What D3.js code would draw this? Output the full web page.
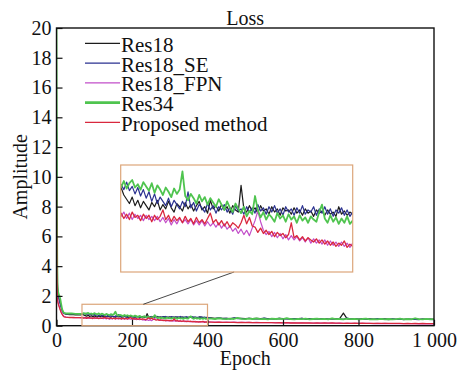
<!DOCTYPE html>
<html>
<head>
<meta charset="utf-8">
<script src="https://cdn.jsdelivr.net/npm/d3@7"></script>
<style>
  body { margin: 0; background: #fff; }
  svg text { font-family: "Liberation Serif", "Times New Roman", serif; fill: #111; }
</style>
</head>
<body>
<div id="svg-container"></div>
<script>
// epochs: dense start, inset region, coarse tail
const earlyEpochs = [0, 1, 2, 3, 4, 5, 6, 8, 10, 12, 15, 18, 20, 25, 30, 35, 40, 45, 50, 55, 60, 64];
const midEpochs = d3.range(68, 401, 4);
const lateEpochs = d3.range(410, 1001, 10);

const xTicks = [0, 200, 400, 600, 800, 1000];
const yTicks = [0, 2, 4, 6, 8, 10, 12, 14, 16, 18, 20];
const seriesNames = ["Res18", "Res18_SE", "Res18_FPN", "Res34", "Proposed method"];

const res18Early = [14, 6, 3.2, 2.5, 2.2, 2.0, 1.9, 1.7, 1.5, 1.3, 1.05, 0.9, 0.82, 0.78, 0.76, 0.75, 0.74, 0.74, 0.73, 0.73, 0.72, 0.72];
const res18Mid = [
  0.79,0.72,0.68,0.64,0.70,0.62,0.67,0.60,0.66,0.62,0.58,0.65,
  0.61,0.67,0.58,0.63,0.59,0.66,0.60,0.56,0.64,0.61,0.57,0.65,
  0.59,0.63,0.57,0.62,0.66,0.58,0.61,0.55,0.67,0.59,0.62,0.57,
  0.63,0.58,0.61,0.55,0.62,0.58,0.56,0.81,0.59,0.56,0.62,0.57,
  0.60,0.55,0.62,0.57,0.59,0.54,0.61,0.56,0.59,0.53,0.60,0.57,
  0.58,0.54,0.60,0.55,0.58,0.53,0.59,0.55,0.57,0.52,0.58,0.55,
  0.57,0.53,0.58,0.54,0.56,0.52,0.61,0.54,0.57,0.53,0.56,0.54];
const res18Late = [
  0.52,0.50,0.51,0.49,0.50,0.48,0.51,0.49,0.50,0.48,0.50,0.47,
  0.49,0.48,0.50,0.47,0.48,0.46,0.49,0.47,0.48,0.46,0.48,0.47,
  0.49,0.46,0.47,0.45,0.48,0.46,0.47,0.45,0.48,0.46,0.47,0.85,
  0.46,0.45,0.47,0.45,0.46,0.44,0.46,0.44,0.45,0.44,0.46,0.44,
  0.45,0.43,0.45,0.43,0.44,0.43,0.45,0.42,0.44,0.43,0.44,0.42];

const seEarly = [13, 5.5, 3, 2.4, 2.1, 1.95, 1.85, 1.65, 1.45, 1.25, 1.0, 0.88, 0.82, 0.8, 0.79, 0.79, 0.8, 0.8, 0.8, 0.81, 0.81, 0.81];
const seMid = [
  0.82,0.77,0.84,0.76,0.80,0.73,0.79,0.71,0.77,0.69,0.75,0.66,
  0.73,0.64,0.70,0.66,0.62,0.69,0.61,0.67,0.63,0.59,0.66,0.61,
  0.75,0.60,0.65,0.57,0.63,0.60,0.56,0.64,0.58,0.62,0.55,0.61,
  0.58,0.63,0.56,0.60,0.54,0.62,0.57,0.59,0.54,0.61,0.56,0.60,
  0.55,0.63,0.57,0.60,0.54,0.61,0.56,0.62,0.55,0.59,0.53,0.61,
  0.56,0.59,0.53,0.60,0.55,0.62,0.54,0.58,0.56,0.61,0.53,0.59,
  0.55,0.61,0.54,0.59,0.52,0.58,0.55,0.60,0.53,0.58,0.52,0.56];
const seLate = [
  0.50,0.48,0.52,0.47,0.49,0.46,0.52,0.47,0.48,0.45,0.50,0.46,
  0.48,0.45,0.51,0.46,0.47,0.44,0.49,0.46,0.48,0.44,0.47,0.45,
  0.49,0.44,0.46,0.43,0.48,0.45,0.46,0.43,0.47,0.44,0.46,0.43,
  0.51,0.44,0.45,0.42,0.46,0.43,0.45,0.42,0.48,0.43,0.44,0.41,
  0.46,0.42,0.44,0.41,0.45,0.42,0.43,0.41,0.45,0.42,0.43,0.41];

const fpnEarly = [10, 4, 2.2, 1.8, 1.6, 1.5, 1.4, 1.25, 1.1, 0.95, 0.8, 0.68, 0.62, 0.58, 0.56, 0.55, 0.55, 0.54, 0.54, 0.54, 0.54, 0.53];
const fpnMid = [
  0.52,0.56,0.50,0.55,0.49,0.54,0.50,0.53,0.48,0.53,0.49,0.52,
  0.48,0.52,0.47,0.51,0.46,0.50,0.44,0.49,0.45,0.50,0.46,0.49,
  0.45,0.49,0.44,0.48,0.44,0.48,0.43,0.47,0.43,0.46,0.42,0.46,
  0.41,0.45,0.40,0.43,0.38,0.41,0.36,0.40,0.35,0.39,0.34,0.41,
  0.48,0.57,0.47,0.39,0.35,0.38,0.33,0.37,0.32,0.36,0.31,0.35,
  0.30,0.34,0.30,0.33,0.29,0.32,0.28,0.32,0.27,0.31,0.27,0.30,
  0.26,0.30,0.25,0.29,0.25,0.28,0.24,0.28,0.24,0.27,0.23,0.27];
const fpnLate = [
  0.25,0.24,0.25,0.23,0.24,0.23,0.24,0.22,0.23,0.22,0.22,0.21,
  0.22,0.21,0.21,0.20,0.21,0.20,0.20,0.19,0.20,0.19,0.19,0.18,
  0.19,0.18,0.18,0.17,0.18,0.17,0.17,0.17,0.17,0.16,0.17,0.16,
  0.16,0.15,0.16,0.15,0.16,0.15,0.15,0.14,0.15,0.14,0.15,0.14,
  0.14,0.13,0.14,0.13,0.14,0.13,0.13,0.12,0.13,0.12,0.13,0.12];

const res34Early = [20, 9, 4, 2.6, 2.3, 2.2, 2.1, 2.0, 1.8, 1.5, 1.1, 0.92, 0.86, 0.83, 0.82, 0.82, 0.82, 0.81, 0.8, 0.8, 0.8, 0.79];
const res34Mid = [
  0.79,0.85,0.78,0.83,0.86,0.79,0.82,0.77,0.84,0.80,0.76,0.83,
  0.74,0.81,0.77,0.72,0.79,0.75,0.70,0.78,0.73,0.77,0.94,0.71,
  0.67,0.73,0.69,0.64,0.72,0.66,0.70,0.63,0.69,0.65,0.61,0.68,
  0.63,0.58,0.66,0.60,0.56,0.64,0.59,0.55,0.61,0.52,0.57,0.54,
  0.71,0.58,0.51,0.56,0.49,0.54,0.51,0.47,0.55,0.50,0.53,0.47,
  0.54,0.49,0.52,0.46,0.53,0.48,0.51,0.46,0.52,0.49,0.47,0.56,
  0.63,0.50,0.46,0.53,0.47,0.51,0.45,0.50,0.46,0.52,0.45,0.48];
const res34Late = [
  0.47,0.45,0.50,0.46,0.44,0.48,0.45,0.52,0.46,0.44,0.47,0.45,
  0.49,0.44,0.46,0.43,0.48,0.45,0.47,0.44,0.51,0.45,0.43,0.46,
  0.44,0.48,0.43,0.45,0.47,0.44,0.46,0.43,0.50,0.44,0.45,0.42,
  0.47,0.44,0.46,0.43,0.45,0.48,0.43,0.44,0.42,0.46,0.43,0.45,
  0.42,0.44,0.47,0.43,0.45,0.42,0.50,0.44,0.43,0.46,0.42,0.44];

const propEarly = [9, 3.5, 2.0, 1.7, 1.55, 1.45, 1.35, 1.2, 1.05, 0.9, 0.76, 0.65, 0.6, 0.57, 0.56, 0.55, 0.55, 0.55, 0.54, 0.54, 0.54, 0.54];
const propMid = [
  0.55,0.50,0.54,0.49,0.56,0.51,0.53,0.48,0.54,0.50,0.53,0.47,
  0.53,0.49,0.52,0.58,0.49,0.53,0.47,0.52,0.48,0.51,0.46,0.52,
  0.47,0.50,0.45,0.51,0.46,0.49,0.45,0.50,0.55,0.46,0.49,0.44,
  0.48,0.43,0.47,0.42,0.46,0.44,0.41,0.46,0.53,0.45,0.51,0.43,
  0.42,0.37,0.41,0.36,0.39,0.35,0.38,0.33,0.37,0.34,0.36,0.32,
  0.35,0.46,0.32,0.34,0.30,0.33,0.29,0.32,0.30,0.28,0.31,0.27,
  0.30,0.26,0.29,0.25,0.28,0.24,0.27,0.25,0.29,0.23,0.26,0.24];
const propLate = [
  0.24,0.23,0.24,0.22,0.23,0.22,0.23,0.21,0.22,0.21,0.22,0.20,
  0.21,0.20,0.21,0.20,0.20,0.19,0.20,0.19,0.20,0.18,0.19,0.18,
  0.19,0.18,0.19,0.17,0.18,0.17,0.18,0.17,0.18,0.17,0.17,0.16,
  0.17,0.16,0.17,0.16,0.17,0.16,0.16,0.15,0.16,0.15,0.16,0.15,
  0.16,0.15,0.15,0.14,0.15,0.14,0.15,0.14,0.15,0.14,0.14,0.14];

// zoomed window (epoch range, loss range) shown in the inset
const zoomEpochs = [67.5, 400];
const zoomLoss = [0, 1.44];
const insetLoss = [0, 1];
const connectorEpoch = 230;

const epochs = earlyEpochs.concat(midEpochs, lateEpochs);
const seriesValues = [
  res18Early.concat(res18Mid, res18Late),
  seEarly.concat(seMid, seLate),
  fpnEarly.concat(fpnMid, fpnLate),
  res34Early.concat(res34Mid, res34Late),
  propEarly.concat(propMid, propLate)
];
const colors = ["#1c1c1c", "#2a3190", "#c24ec9", "#4fc44f", "#d9283e"];
const widths = [1.2, 1.2, 1.2, 1.8, 1.3];

const W = 458, H = 371;
const plot = {left: 56.5, right: 434, top: 28, bottom: 325.7};
const inset = {left: 120.7, right: 352.7, top: 165, bottom: 272};

const buildChart = () => {
    let svg = d3.select("#svg-container")
        .append("svg")
        .attr("width", W)
        .attr("height", H);

    let x = d3.scaleLinear().domain([0, 1000]).range([plot.left, plot.right]);
    let y = d3.scaleLinear().domain([0, 20]).range([plot.bottom, plot.top]);

    let data = seriesNames.map((name, i) => ({
        name: name,
        color: colors[i],
        width: widths[i],
        points: epochs.map((e, j) => [e, seriesValues[i][j]])
    }));

    svg.append("clipPath").attr("id", "plot-clip")
        .append("rect")
        .attr("x", plot.left).attr("y", plot.top)
        .attr("width", plot.right - plot.left).attr("height", plot.bottom - plot.top);

    let line = d3.line().x(d => x(d[0])).y(d => y(d[1]));

    svg.append("g")
        .attr("clip-path", "url(#plot-clip)")
        .selectAll("path")
        .data(data)
        .enter()
        .append("path")
        .attr("d", d => line(d.points))
        .attr("fill", "none")
        .attr("stroke", d => d.color)
        .attr("stroke-width", d => d.width)
        .attr("stroke-linejoin", "round");

    // axes, ticks pointing inward
    let xAxis = d3.axisBottom(x).tickValues(xTicks)
        .tickSizeInner(-6).tickSizeOuter(0).tickPadding(7)
        .tickFormat(d => d === 1000 ? "1 000" : d);
    let xg = svg.append("g")
        .attr("transform", `translate(0,${plot.bottom})`)
        .call(xAxis);

    let yAxis = d3.axisLeft(y).tickValues(yTicks)
        .tickSizeInner(-6).tickSizeOuter(0).tickPadding(5);
    let yg = svg.append("g")
        .attr("transform", `translate(${plot.left},0)`)
        .call(yAxis);

    [xg, yg].forEach(g => {
        g.select(".domain").remove();
        g.selectAll("line").attr("stroke", "#111").attr("stroke-width", 1.2);
        g.selectAll("text").attr("font-size", 20)
            .attr("font-family", "Liberation Serif, Times New Roman, serif")
            .attr("fill", "#111");
    });

    svg.append("rect")
        .attr("x", plot.left).attr("y", plot.top)
        .attr("width", plot.right - plot.left).attr("height", plot.bottom - plot.top)
        .attr("fill", "none")
        .attr("stroke", "#111")
        .attr("stroke-width", 1.4);

    // zoom box + inset
    const boxColor = "#dca67a";
    svg.append("rect")
        .attr("x", x(zoomEpochs[0])).attr("y", y(zoomLoss[1]))
        .attr("width", x(zoomEpochs[1]) - x(zoomEpochs[0]))
        .attr("height", y(zoomLoss[0]) - y(zoomLoss[1]))
        .attr("fill", "none")
        .attr("stroke", boxColor)
        .attr("stroke-width", 1.2);

    let ix = d3.scaleLinear().domain(zoomEpochs).range([inset.left, inset.right]);
    let iy = d3.scaleLinear().domain(insetLoss).range([inset.bottom, inset.top]);

    svg.append("line")
        .attr("x1", x(connectorEpoch)).attr("y1", y(zoomLoss[1]))
        .attr("x2", ix(connectorEpoch)).attr("y2", inset.bottom)
        .attr("stroke", "#333")
        .attr("stroke-width", 0.9);

    svg.append("clipPath").attr("id", "inset-clip")
        .append("rect")
        .attr("x", inset.left).attr("y", inset.top)
        .attr("width", inset.right - inset.left).attr("height", inset.bottom - inset.top);

    let insetLine = d3.line().x(d => ix(d[0])).y(d => iy(d[1]));

    svg.append("g")
        .attr("clip-path", "url(#inset-clip)")
        .selectAll("path")
        .data(data)
        .enter()
        .append("path")
        .attr("d", d => insetLine(d.points.filter(p => p[0] >= 64 && p[0] <= 410)))
        .attr("fill", "none")
        .attr("stroke", d => d.color)
        .attr("stroke-width", d => d.width)
        .attr("stroke-linejoin", "round");

    svg.append("rect")
        .attr("x", inset.left).attr("y", inset.top)
        .attr("width", inset.right - inset.left).attr("height", inset.bottom - inset.top)
        .attr("fill", "none")
        .attr("stroke", boxColor)
        .attr("stroke-width", 1.2);

    // legend
    let legend = svg.append("g").selectAll("g")
        .data(data)
        .enter()
        .append("g")
        .attr("transform", (d, i) => `translate(85,${43.3 + i * 19.75})`);

    legend.append("line")
        .attr("x1", 0).attr("x2", 35)
        .attr("stroke", d => d.color)
        .attr("stroke-width", d => d.width === 1.8 ? 2.8 : 1.2);

    legend.append("text")
        .attr("x", 36).attr("y", 8.5)
        .attr("font-size", 21)
        .text(d => d.name);

    // titles
    svg.append("text")
        .attr("x", (plot.left + plot.right) / 2).attr("y", 25)
        .attr("text-anchor", "middle")
        .attr("font-size", 20)
        .text("Loss");

    svg.append("text")
        .attr("x", (plot.left + plot.right) / 2).attr("y", 365)
        .attr("text-anchor", "middle")
        .attr("font-size", 20)
        .text("Epoch");

    svg.append("text")
        .attr("transform", `translate(27,${(plot.top + plot.bottom) / 2}) rotate(-90)`)
        .attr("text-anchor", "middle")
        .attr("font-size", 20)
        .text("Amplitude");
};

buildChart();
</script>
</body>
</html>
